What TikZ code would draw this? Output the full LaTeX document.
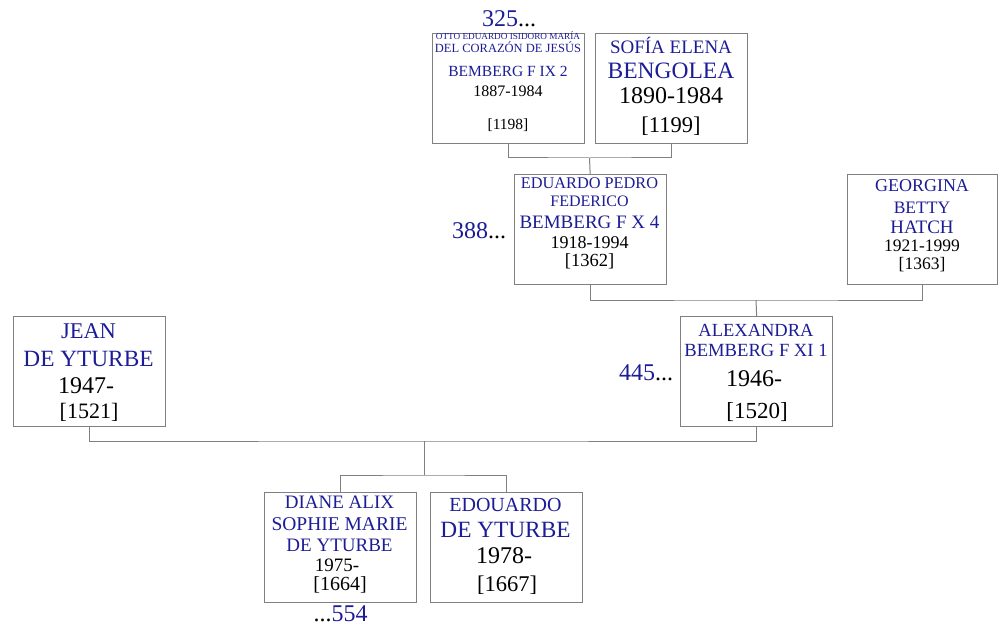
\documentclass[tikz,border=0pt]{standalone}
\usepackage{fontspec}
\setmainfont{Liberation Serif}
\definecolor{nmblue}{RGB}{28,28,150}
\definecolor{lngray}{RGB}{128,128,128}
\tikzset{
  person/.style={draw=lngray, line width=1.3pt, minimum width=152pt, minimum height=110pt, inner sep=0pt, anchor=north west},
  conn/.style={draw=lngray, line width=1pt},
  fs/.style={font=\fontsize{#1}{#1}\selectfont},
  nm/.style={text=nmblue, inner sep=0pt, anchor=base},
  dt/.style={text=black, inner sep=0pt, anchor=base},
  gen/.style={text=nmblue, inner sep=0pt, anchor=base, font=\fontsize{24}{24}\selectfont}
}
\begin{document}
\begin{tikzpicture}[x=1pt,y=-1pt]
\useasboundingbox (0,0) rectangle (998,628);
% boxes
\node[person] (otto) at (432,33) {};
\node[person] (sofia) at (595,33) {};
\node[person] (eduardo) at (513.5,174) {};
\node[person, minimum width=150pt] (georgina) at (847,174) {};
\node[person] (jean) at (12.5,316) {};
\node[person] (alexandra) at (680,316) {};
\node[person] (diane) at (263.5,492) {};
\node[person] (edouardo) at (429.5,492) {};
% connectors
\coordinate (j1) at (589.5,158);
\draw[conn] (otto.south) |- (j1) -| (sofia.south);
\draw[conn] (j1) -- (eduardo.north);
\coordinate (j2) at (756,300);
\draw[conn] (eduardo.south) |- (j2) -| (georgina.south);
\draw[conn] (j2) -- (alexandra.north);
\coordinate (j3) at (424,441);
\draw[conn] (jean.south) |- (j3) -| (alexandra.south);
\coordinate (j4) at (424,475);
\draw[conn] (j3) -- (j4);
\draw[conn] (diane.north) |- (j4) -| (edouardo.north);
% generation labels
\node[gen] (g325) at (509,26.5) {325\textcolor{black}{...}};
\node[gen] (g388) at (479,238.3) {388\textcolor{black}{...}};
\node[gen] (g445) at (646,380) {445\textcolor{black}{...}};
\node[gen] (g554) at (340.5,621.7) {\textcolor{black}{...}554};
% Otto
\node[nm, fs=9.2] (otto1) at (508,39.5) {OTTO EDUARDO ISIDORO MARÍA};
\node[nm, fs=12.5] (otto2) at (508,52.5) {DEL CORAZÓN DE JESÚS};
\node[nm, fs=15.5] (otto3) at (508,76.7) {BEMBERG F IX 2};
\node[dt, fs=16] (otto4) at (508,96.7) {1887-1984};
\node[dt, fs=15.5] (otto5) at (508,129.5) {[1198]};
% Sofia
\node[nm, fs=19] (sofia1) at (671,53.3) {SOFÍA ELENA};
\node[nm, fs=23.5] (sofia2) at (671,79) {BENGOLEA};
\node[dt, fs=24] (sofia3) at (671,104) {1890-1984};
\node[dt, fs=22.5] (sofia4) at (671,133) {[1199]};
% Eduardo
\node[nm, fs=16.3] (edu1) at (589.5,188.3) {EDUARDO PEDRO};
\node[nm, fs=16] (edu2) at (589.5,206.7) {FEDERICO};
\node[nm, fs=19] (edu3) at (589.5,228.3) {BEMBERG F X 4};
\node[dt, fs=18] (edu4) at (589.5,248.3) {1918-1994};
\node[dt, fs=18.5] (edu5) at (589.5,266) {[1362]};
% Georgina
\node[nm, fs=18] (geo1) at (922,191.7) {GEORGINA};
\node[nm, fs=17.5] (geo2) at (922,213.3) {BETTY};
\node[nm, fs=19] (geo3) at (922,233.3) {HATCH};
\node[dt, fs=17.5] (geo4) at (922,251.5) {1921-1999};
\node[dt, fs=17.5] (geo5) at (922,269.5) {[1363]};
% Jean
\node[nm, fs=22.5] (jean1) at (88.5,338.3) {JEAN};
\node[nm, fs=23.3] (jean2) at (88.5,366.7) {DE YTURBE};
\node[dt, fs=24] (jean3) at (86,393.3) {1947-};
\node[dt, fs=22] (jean4) at (89,418.3) {[1521]};
% Alexandra
\node[nm, fs=18.5] (alex1) at (756,336.7) {ALEXANDRA};
\node[nm, fs=18.6] (alex2) at (756,356.7) {BEMBERG F XI 1};
\node[dt, fs=24] (alex3) at (754,386.7) {1946-};
\node[dt, fs=23] (alex4) at (757,418.5) {[1520]};
% Diane
\node[nm, fs=19] (dia1) at (339.5,508.3) {DIANE ALIX};
\node[nm, fs=19.5] (dia2) at (339.5,530) {SOPHIE MARIE};
\node[nm, fs=19] (dia3) at (339.5,551.7) {DE YTURBE};
\node[dt, fs=19] (dia4) at (337,571.7) {1975-};
\node[dt, fs=20] (dia5) at (340,590) {[1664]};
% Edouardo
\node[nm, fs=20] (edo1) at (505.5,511.7) {EDOUARDO};
\node[nm, fs=23.3] (edo2) at (505.5,537.3) {DE YTURBE};
\node[dt, fs=24] (edo3) at (504,563.3) {1978-};
\node[dt, fs=22.5] (edo4) at (507,591.7) {[1667]};
\end{tikzpicture}
\end{document}
